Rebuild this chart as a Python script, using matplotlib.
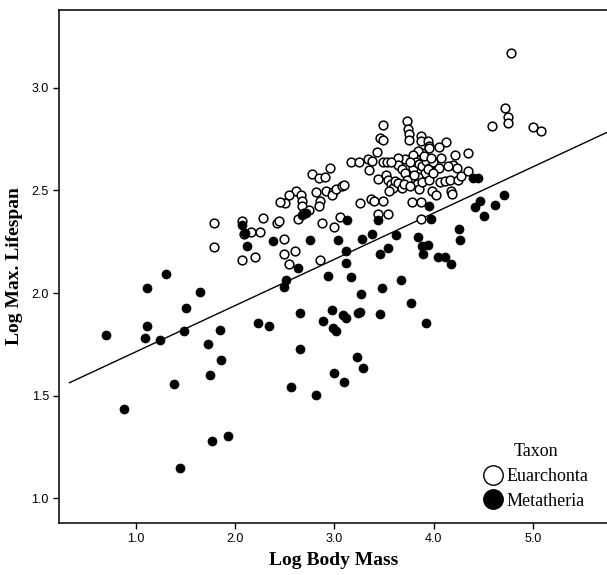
import matplotlib
matplotlib.use("Agg")
import matplotlib.pyplot as plt
from matplotlib.lines import Line2D

# Euarchonta (open circles): log body mass, log max lifespan
eu_mass = [4.78, 4.715, 4.75, 4.75, 4.586, 5.004, 5.082,
           3.736, 3.743, 3.755, 3.751, 3.872, 3.872, 3.939, 3.95, 3.958, 4.122, 4.052,
           3.88, 3.84, 3.794, 3.712, 3.646, 3.646, 3.685, 3.708, 3.732, 3.794, 3.821,
           3.849, 3.88, 3.919, 3.958, 3.997, 3.911, 3.84, 3.829, 3.853, 3.88, 3.95,
           3.985, 4.028, 4.059, 4.063, 4.114, 4.165, 4.173, 4.184, 4.2, 4.212, 4.231,
           4.251, 4.278, 4.344, 4.348, 3.786, 3.872, 3.872,
           3.49, 3.455, 3.49, 3.431, 3.341, 3.353, 3.384, 3.435, 3.49, 3.529, 3.568,
           3.521, 3.54, 3.568, 3.587, 3.552, 3.607, 3.646, 3.677, 3.373, 3.404, 3.49,
           3.263, 3.439, 3.54,
           3.166, 3.244, 2.951, 2.776, 2.842, 2.904, 2.916, 2.982, 2.975, 3.021, 3.08,
           3.092, 3.053, 2.998, 2.877, 2.815, 2.85, 2.846,
           2.612, 2.662, 2.67, 2.678, 2.538, 2.506, 2.448, 2.424, 2.444, 2.631, 2.69,
           2.748, 2.28, 2.253, 2.202, 2.495, 2.495, 2.6, 2.538, 2.85,
           1.784, 1.784, 2.069, 2.085, 2.155, 2.065,
           3.9, 3.977, 3.939, 3.763, 3.997, 3.802, 4.075, 4.145, 3.704, 3.763]
eu_life = [3.17, 2.90, 2.855, 2.83, 2.813, 2.807, 2.788,
           2.838, 2.797, 2.772, 2.743, 2.763, 2.741, 2.741, 2.718, 2.706, 2.734, 2.713,
           2.684, 2.691, 2.674, 2.652, 2.659, 2.625, 2.602, 2.584, 2.552, 2.611, 2.638,
           2.629, 2.62, 2.641, 2.611, 2.638, 2.584, 2.566, 2.531, 2.504, 2.54, 2.549,
           2.495, 2.477, 2.611, 2.54, 2.543, 2.549, 2.495, 2.483, 2.625, 2.67, 2.611,
           2.549, 2.57, 2.681, 2.593, 2.442, 2.442, 2.358,
           2.82, 2.754, 2.743, 2.688, 2.652, 2.599, 2.643, 2.554, 2.638, 2.638, 2.636,
           2.575, 2.549, 2.531, 2.513, 2.499, 2.545, 2.534, 2.513, 2.459, 2.45, 2.449,
           2.436, 2.384, 2.384,
           2.638, 2.638, 2.607, 2.581, 2.558, 2.563, 2.499, 2.492, 2.477, 2.504, 2.522,
           2.525, 2.37, 2.322, 2.342, 2.492, 2.449, 2.422,
           2.499, 2.477, 2.45, 2.424, 2.475, 2.436, 2.445, 2.343, 2.352, 2.358, 2.392,
           2.406, 2.367, 2.299, 2.174, 2.263, 2.192, 2.206, 2.14, 2.16,
           2.34, 2.226, 2.351, 2.285, 2.297, 2.16,
           2.665, 2.656, 2.602, 2.638, 2.584, 2.575, 2.656, 2.62, 2.531, 2.522]

# Metatheria (filled circles)
me_mass = [0.70, 0.875, 1.094, 1.113, 1.109, 1.238, 1.30, 1.379, 1.445, 1.488, 1.507,
           1.648, 1.722, 1.745, 1.769, 1.843, 1.859, 1.929, 2.073, 2.10, 2.12, 2.233,
           2.342, 2.385, 2.495, 2.514, 2.631, 2.651, 2.651, 2.565, 2.709, 2.67, 2.756,
           2.815, 2.885, 2.94, 2.971, 2.982, 2.998, 3.014, 3.037, 3.088, 3.10, 3.115,
           3.115, 3.115, 3.123, 3.17, 3.224, 3.236, 3.256, 3.267, 3.275, 3.291, 3.377,
           3.435, 3.455, 3.462, 3.482, 3.537, 3.626, 3.669, 3.775, 3.841, 3.88, 3.896,
           3.927, 3.942, 3.954, 3.978, 4.04, 4.114, 4.173, 4.255, 4.27, 4.419, 4.395,
           4.446, 4.465, 4.512, 4.618, 4.707]
me_life = [1.794, 1.434, 1.78, 1.84, 2.022, 1.771, 2.094, 1.557, 1.146, 1.814, 1.926,
           2.004, 1.751, 1.603, 1.28, 1.821, 1.673, 1.302, 2.331, 2.29, 2.229, 1.853,
           1.84, 2.252, 2.031, 2.063, 2.12, 1.903, 1.726, 1.544, 2.388, 2.379, 2.256,
           1.505, 1.865, 2.085, 1.915, 1.83, 1.612, 1.814, 2.26, 1.894, 1.569, 1.878,
           2.203, 2.147, 2.356, 2.076, 1.69, 1.903, 1.908, 1.996, 2.263, 1.633, 2.286,
           2.356, 2.19, 1.899, 2.026, 2.22, 2.281, 2.063, 1.951, 2.272, 2.227, 2.192,
           1.853, 2.236, 2.424, 2.358, 2.176, 2.176, 2.142, 2.31, 2.26, 2.42, 2.558,
           2.558, 2.447, 2.376, 2.429, 2.477]

# Fit line
fit_intercept = 1.489
fit_slope = 0.225
fit_x = [0.33, 5.75]

x_ticks = [1.0, 2.0, 3.0, 4.0, 5.0]
y_ticks = [1.0, 1.5, 2.0, 2.5, 3.0]
taxa = ["Euarchonta", "Metatheria"]

fig = plt.figure(figsize=(6.07, 5.75), dpi=100)
ax = fig.add_axes([0.0977, 0.0904, 0.9023, 0.8922])

ax.plot(eu_mass, eu_life, linestyle="none", marker="o", markersize=6.3,
        markerfacecolor="white", markeredgecolor="black", markeredgewidth=1.1, zorder=3)
ax.plot(me_mass, me_life, linestyle="none", marker="o", markersize=6.5,
        markerfacecolor="black", markeredgecolor="black", markeredgewidth=0.5, zorder=4)

ax.plot(fit_x, [fit_intercept + fit_slope * v for v in fit_x], color="black", lw=1.0, zorder=2)

ax.set_xlim(0.227, 5.748)
ax.set_ylim(0.88, 3.378)
ax.set_xticks(x_ticks)
ax.set_yticks(y_ticks)
ax.set_xticklabels([f"{v:.1f}" for v in x_ticks], family="Liberation Sans", fontsize=9)
ax.set_yticklabels([f"{v:.1f}" for v in y_ticks], family="Liberation Sans", fontsize=9)
ax.tick_params(direction="out", length=4.5, width=1.0, color="black", pad=3)
for side in ["left", "bottom", "top"]:
    ax.spines[side].set_linewidth(1.1)
ax.spines["right"].set_visible(False)

ax.set_xlabel("Log Body Mass", family="Liberation Serif", fontweight="bold", fontsize=14, labelpad=5)
ax.set_ylabel("Log Max. Lifespan", family="Liberation Serif", fontweight="bold", fontsize=14, labelpad=6)

handles = [
    Line2D([], [], linestyle="none", marker="o", markersize=14, markerfacecolor="white",
           markeredgecolor="black", markeredgewidth=1.0),
    Line2D([], [], linestyle="none", marker="o", markersize=14, markerfacecolor="black",
           markeredgecolor="black"),
]
leg = ax.legend(handles, taxa, title="Taxon", loc="lower right", bbox_to_anchor=(0.985, 0.005),
                frameon=False, handlelength=1.0, handletextpad=0.2, labelspacing=0.4,
                prop={"family": "Liberation Serif", "size": 13},
                title_fontproperties={"family": "Liberation Serif", "size": 13},
                borderaxespad=0.2)
leg._legend_box.sep = 6

fig.savefig("out.png", dpi=100)
